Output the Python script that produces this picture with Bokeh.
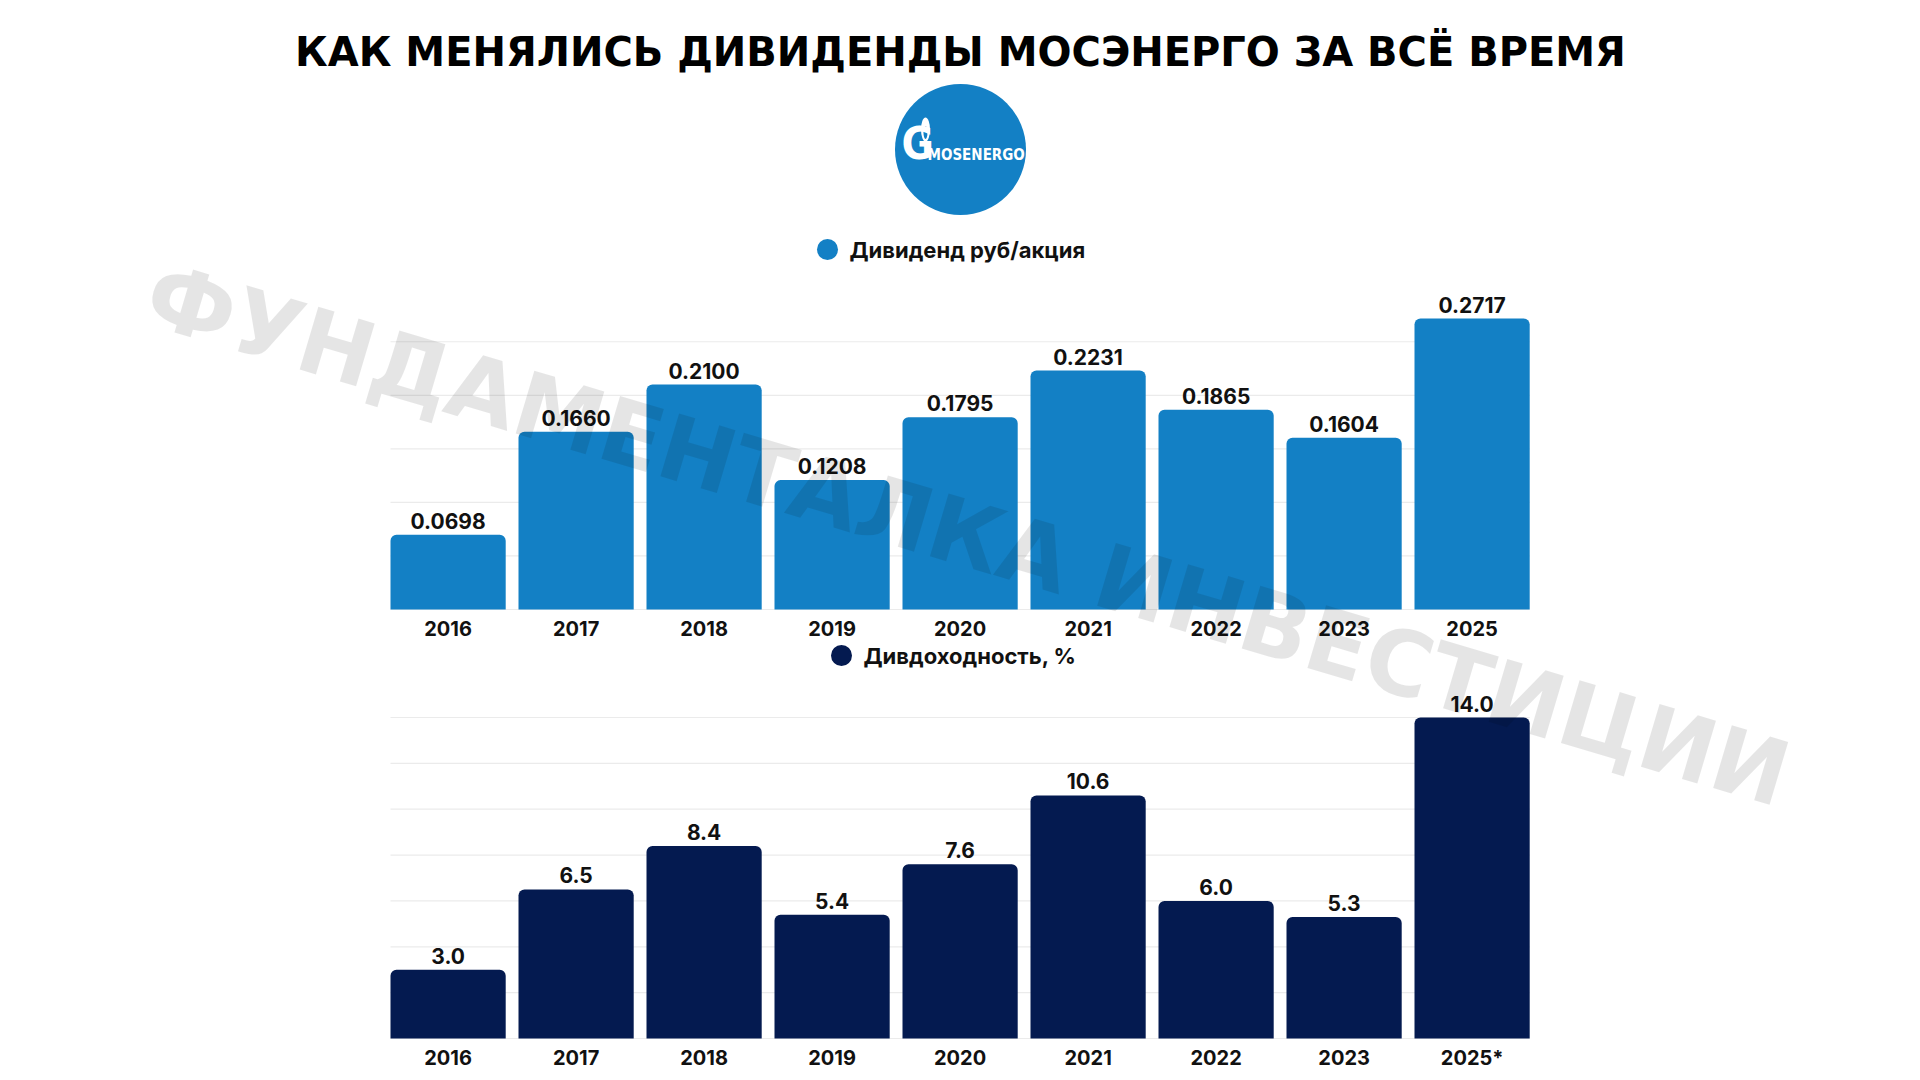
import math
from bokeh.plotting import figure
from bokeh.models import Range1d
from bokeh.core.properties import value
from bokeh.embed import file_html
from bokeh.resources import INLINE

# ---------------- data ----------------
title_text = "КАК МЕНЯЛИСЬ ДИВИДЕНДЫ МОСЭНЕРГО ЗА ВСЁ ВРЕМЯ"
logo_text = "MOSENERGO"
watermark_text = "ФУНДАМЕНТАЛКА ИНВЕСТИЦИИ"

legend_div = "Дивиденд руб/акция"
years_div = ["2016", "2017", "2018", "2019", "2020", "2021", "2022", "2023", "2025"]
dividend = [0.0698, 0.1660, 0.2100, 0.1208, 0.1795, 0.2231, 0.1865, 0.1604, 0.2717]
div_grid = [0.0, 0.05, 0.10, 0.15, 0.20, 0.25]

legend_yield = "Дивдоходность, %"
years_yield = ["2016", "2017", "2018", "2019", "2020", "2021", "2022", "2023", "2025*"]
yield_pct = [3.0, 6.5, 8.4, 5.4, 7.6, 10.6, 6.0, 5.3, 14.0]
yield_grid = [0, 2, 4, 6, 8, 10, 12, 14]

# ---------------- style / layout ----------------
BLUE = "#1380C5"
NAVY = "#041A50"
GRID = "#EBEBEB"
TXT = "#111111"
LBL_FONT = value("Inter")

W, H = 1904, 1072     # figure size
OFF = 0               # observed position of the figure on the page


def fx(px):           # page px -> figure x
    return px - OFF


def fy(py):           # page px -> figure y (flipped range)
    return py - OFF


p = figure(width=W, height=H, output_backend="svg", toolbar_location=None,
           x_range=Range1d(0, W), y_range=Range1d(H, 0),
           min_border=0, outline_line_color=None, background_fill_color="white",
           border_fill_color="white")
p.axis.visible = False
p.grid.visible = False

# bar-category scale: bar n centred at n, band 128px, bar 0 starts at page x 390
UNIT = 128.0
X_LEFT = 390.0
BAR_W = 0.9
xs = list(range(len(years_div)))
p.extra_x_ranges["xb"] = Range1d(-BAR_W / 2 - (X_LEFT - OFF) / UNIT,
                                 -BAR_W / 2 + (W + OFF - X_LEFT) / UNIT)

# top chart value scale
TOP_BASE, TOP_SCALE = 609.0, 1071.0
p.extra_y_ranges["yt"] = Range1d((TOP_BASE - (H + OFF)) / TOP_SCALE, (TOP_BASE - OFF) / TOP_SCALE)
# bottom chart value scale
BOT_BASE, BOT_SCALE = 1038.0, 321.0 / 14.0
p.extra_y_ranges["yb"] = Range1d((BOT_BASE - (H + OFF)) / BOT_SCALE, (BOT_BASE - OFF) / BOT_SCALE)

x_lo, x_hi = -BAR_W / 2, len(xs) - 1 + BAR_W / 2

# ---------------- title ----------------
p.text(x=[fx(960)], y=[fy(51)], text=[title_text], text_align="center",
       text_baseline="middle", text_font=value("DejaVu Sans"), text_font_style="bold",
       text_font_size="40px", text_color="#000000")

# ---------------- logo ----------------
p.scatter(x=[fx(960)], y=[fy(149)], size=131, marker="circle",
          fill_color=BLUE, line_color=None)
p.ellipse(x=[fx(925)], y=[fy(129)], width=9, height=24, fill_color="white", line_color=None)
p.ellipse(x=[fx(925)], y=[fy(132)], width=4, height=13, fill_color=BLUE, line_color=None)
p.text(x=[fx(901)], y=[fy(168)], text=["G"], text_align="left", text_baseline="bottom",
       text_font=value("DejaVu Sans Condensed"), text_font_style="bold",
       text_font_size="44px", text_color="white")
p.text(x=[fx(927)], y=[fy(163)], text=[logo_text], text_align="left", text_baseline="bottom",
       text_font=value("DejaVu Sans Condensed"), text_font_style="bold",
       text_font_size="15px", text_color="white")

# ---------------- legends ----------------
for cx, cy, col, lab in [(827, 249, BLUE, legend_div), (841, 655, NAVY, legend_yield)]:
    p.scatter(x=[fx(cx)], y=[fy(cy)], size=21, marker="circle", fill_color=col, line_color=None)
    p.text(x=[fx(cx + 22)], y=[fy(cy)], text=[lab], text_align="left", text_baseline="middle",
           text_font=LBL_FONT, text_font_style="bold", text_font_size="22px", text_color=TXT)

# ---------------- charts ----------------
for yname, vals, grid, cats, col, fmt in [
        ("yt", dividend, div_grid, years_div, BLUE, "{:.4f}"),
        ("yb", yield_pct, yield_grid, years_yield, NAVY, "{:.1f}")]:
    p.segment(x0=[x_lo] * len(grid), x1=[x_hi] * len(grid), y0=grid, y1=grid,
              line_color=GRID, line_width=1.2, x_range_name="xb", y_range_name=yname)
    p.vbar(x=xs, top=vals, bottom=0, width=BAR_W, fill_color=col, line_color=None,
           border_radius=(6, 6, 0, 0), x_range_name="xb", y_range_name=yname)
    p.text(x=xs, y=vals, text=[fmt.format(v) for v in vals], y_offset=-14,
           text_align="center", text_baseline="middle", text_font=LBL_FONT,
           text_font_style="bold", text_font_size="21px", text_color=TXT,
           x_range_name="xb", y_range_name=yname)
    p.text(x=xs, y=[0] * len(xs), text=cats, y_offset=19,
           text_align="center", text_baseline="middle", text_font=LBL_FONT,
           text_font_style="bold", text_font_size="20px", text_color=TXT,
           x_range_name="xb", y_range_name=yname)

# ---------------- watermark ----------------
p.text(x=[fx(967)], y=[fy(534)], text=[watermark_text], angle=-math.radians(16.5),
       text_align="center", text_baseline="middle", text_font=value("DejaVu Sans"),
       text_font_style="bold", text_font_size="90px", text_color="#000000", text_alpha=0.10)

open("out.html", "w").write(file_html(p, INLINE))
